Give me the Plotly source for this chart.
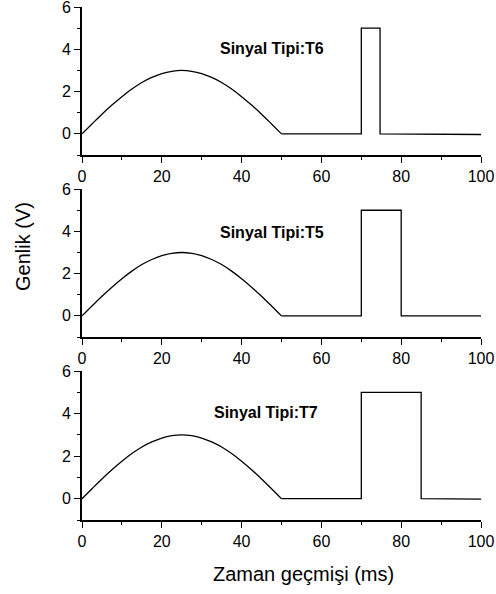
import plotly.graph_objects as go

# ---- data ----
sine_t = [0, 2.5, 5, 7.5, 10, 12.5, 15, 17.5, 20, 22.5, 25, 27.5, 30, 32.5, 35, 37.5, 40, 42.5, 45, 47.5, 50]
sine_v = [0, 0.47, 0.93, 1.36, 1.76, 2.12, 2.43, 2.67, 2.85, 2.96, 3.0, 2.96, 2.85, 2.67, 2.43, 2.12, 1.76, 1.36, 0.93, 0.47, 0]

t6_t = [50, 70, 70, 74.7, 74.7, 92, 92, 100]
t6_v = [0, 0, 5, 5, 0, 0, -0.03, -0.03]
t5_t = [50, 70, 70, 80, 80, 100]
t5_v = [0, 0, 5, 5, 0, 0]
t7_t = [50, 70, 70, 85, 85, 92, 92, 100]
t7_v = [0, 0, 5, 5, 0, 0, -0.02, -0.02]

labels = ["Sinyal Tipi:T6", "Sinyal Tipi:T5", "Sinyal Tipi:T7"]
label_x = [47.7, 47.7, 46.1]
label_y = [4.04, 3.93, 4.04]
pulses = [(t6_t, t6_v), (t5_t, t5_v), (t7_t, t7_v)]

x_ticks = [0, 20, 40, 60, 80, 100]
y_ticks = [0, 2, 4, 6]

FONT = "Liberation Sans, Arial, sans-serif"
W, H = 496, 594
ml, mr, mt, mb = 82, 15, 7, 74
ph = H - mt - mb
domains = [[0.7115, 1.0], [0.3567, 0.645], [0.0, 0.2904]]

fig = go.Figure()
for i, (pt, pv) in enumerate(pulses):
    xa = "x" if i == 0 else f"x{i+1}"
    ya = "y" if i == 0 else f"y{i+1}"
    fig.add_trace(go.Scatter(x=sine_t, y=sine_v, mode="lines", xaxis=xa, yaxis=ya,
                             line=dict(color="black", width=1.3, shape="spline"), showlegend=False))
    fig.add_trace(go.Scatter(x=pt, y=pv, mode="lines", xaxis=xa, yaxis=ya,
                             line=dict(color="black", width=1.3), showlegend=False))

axis_common = dict(showline=True, linecolor="black", linewidth=1.6, showgrid=False, zeroline=False,
                   automargin=False, ticklabeloverflow="allow",
                   ticks="outside", tickcolor="black", tickwidth=1.4, ticklen=6,
                   tickfont=dict(family=FONT, size=16, color="black"),
                   minor=dict(ticks="outside", ticklen=3, tickcolor="black", tickwidth=1.4, showgrid=False))

layout = dict(width=W, height=H, margin=dict(l=ml, r=mr, t=mt, b=mb, autoexpand=False),
              plot_bgcolor="white", paper_bgcolor="white", showlegend=False)
for i in range(3):
    xk = "xaxis" if i == 0 else f"xaxis{i+1}"
    yk = "yaxis" if i == 0 else f"yaxis{i+1}"
    ya = "y" if i == 0 else f"y{i+1}"
    xa = "x" if i == 0 else f"x{i+1}"
    layout[xk] = dict(axis_common, range=[0, 100], tickvals=x_ticks, ticktext=[str(v) for v in x_ticks],
                      minor=dict(axis_common["minor"], tickvals=[10, 30, 50, 70, 90]),
                      anchor=ya, domain=[0, 1])
    layout[yk] = dict(axis_common, range=[-1, 6], tickvals=y_ticks, ticktext=[str(v) for v in y_ticks],
                      minor=dict(axis_common["minor"], tickvals=[-1, 1, 3, 5]),
                      anchor=xa, domain=domains[i])
fig.update_layout(**layout)

for i in range(3):
    xa = "x" if i == 0 else f"x{i+1}"
    ya = "y" if i == 0 else f"y{i+1}"
    fig.add_annotation(x=label_x[i], y=label_y[i], xref=xa, yref=ya, text=f"<b>{labels[i]}</b>",
                       showarrow=False, font=dict(family=FONT, size=16, color="black"))

fig.add_annotation(x=(23 - ml) / (W - ml - mr), y=(H - mb - 247) / ph, xref="paper", yref="paper",
                   xanchor="center", yanchor="middle",
                   text="Genlik (V)", textangle=-90, showarrow=False,
                   font=dict(family=FONT, size=20, color="black"))
fig.add_annotation(x=(303 - ml) / (W - ml - mr), y=(H - mb - 574) / ph, xref="paper", yref="paper",
                   xanchor="center", yanchor="middle",
                   text="Zaman geçmişi (ms)", showarrow=False,
                   font=dict(family=FONT, size=20, color="black"))

fig.write_html("out.html")
